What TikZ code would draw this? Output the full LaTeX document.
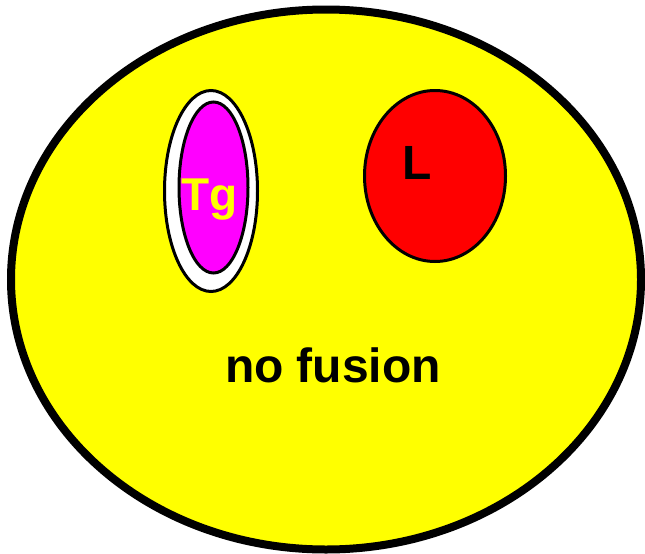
\documentclass[tikz,border=0pt]{standalone}
\usepackage{fontspec}
\setmainfont{Liberation Sans}
\begin{document}
\begin{tikzpicture}[x=1pt,y=-1pt,
  lbl/.style={font=\fontsize{48}{48}\selectfont\bfseries, inner sep=0pt, anchor=base}]
\useasboundingbox (0,0) rectangle (645,554);
\fill[white] (0,0) rectangle (645,554);
% big cell
\draw[line width=8pt, fill={rgb,255:red,255;green,255;blue,0}] (326,279.5) ellipse [x radius=315, y radius=270];
% Tg vesicle
\draw[line width=3pt, fill=white] (211,191) ellipse [x radius=46.5, y radius=100.5];
\draw[line width=3pt, fill={rgb,255:red,255;green,0;blue,255}] (213.5,187.5) ellipse [x radius=34.5, y radius=85.5];
% L vesicle
\draw[line width=3pt, fill={rgb,255:red,255;green,0;blue,0}] (435,176) ellipse [x radius=70.5, y radius=85.5];
% labels
\node[lbl, text={rgb,255:red,255;green,255;blue,0}, font=\fontsize{46}{46}\selectfont\bfseries] (tg) at (209.5,210) {Tg};
\node[lbl] (l) at (417.5,179) {L};
\node[lbl] (nf) at (333,382) {no fusion};
\end{tikzpicture}
\end{document}
